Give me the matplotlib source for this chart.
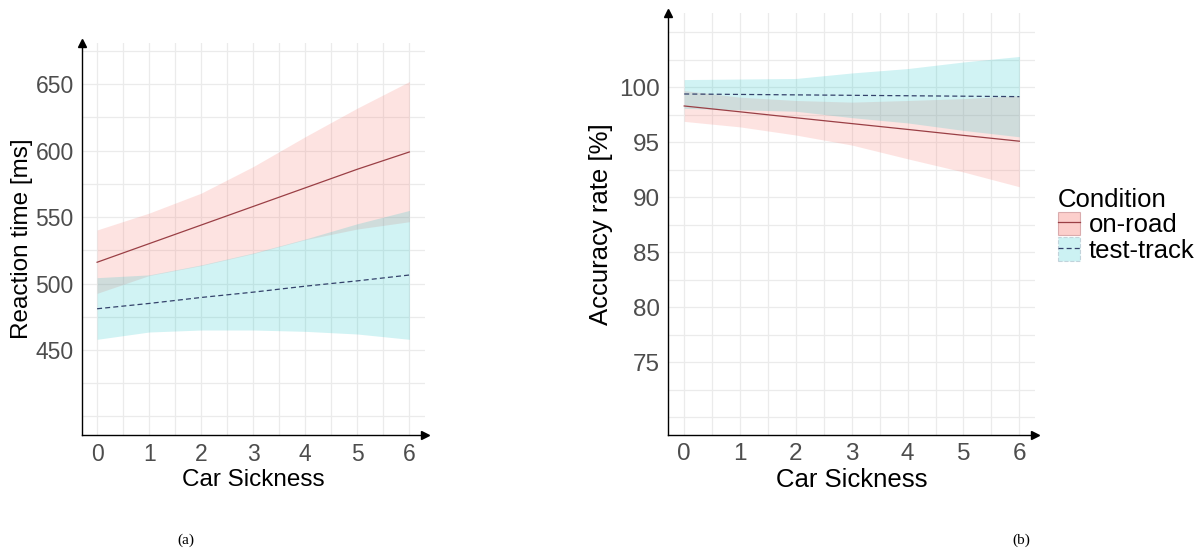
import matplotlib.pyplot as plt
import numpy as np
from matplotlib.patches import Patch
from matplotlib.lines import Line2D

plt.rcParams['font.family'] = ['Liberation Sans', 'DejaVu Sans']

# car sickness score
x = [0, 1, 2, 3, 4, 5, 6]

# (a) reaction time [ms]
rt_road = [516, 530, 544, 558, 572, 586, 599]
rt_road_hi = [540.3, 553, 568, 588, 610.5, 632, 652]
rt_road_lo = [492.6, 506, 513.5, 522.5, 533, 541, 546.5]
rt_track = [481, 485, 489.5, 493.5, 498, 502, 506.4]
rt_track_hi = [504.4, 506.5, 514, 523, 533.5, 545, 555]
rt_track_lo = [458, 463.5, 465, 465, 464, 462, 458]

# (b) accuracy rate [%]
acc_road = [98.3, 97.77, 97.23, 96.7, 96.17, 95.63, 95.1]
acc_road_hi = [99.7, 99.1, 98.8, 98.65, 98.8, 98.97, 99.24]
acc_road_lo = [96.9, 96.4, 95.66, 94.75, 93.5, 92.3, 90.96]
acc_track = [99.39, 99.35, 99.31, 99.27, 99.23, 99.19, 99.15]
acc_track_hi = [100.7, 100.75, 100.8, 101.3, 101.7, 102.3, 102.8]
acc_track_lo = [98.08, 97.95, 97.82, 97.24, 96.76, 96.08, 95.5]

pink = '#F8766D'
cyan = '#00BFC4'
red_line = '#9a3f45'
blue_line = '#34426b'

W, H = 1203, 556
fig = plt.figure(figsize=(W / 100, H / 100), dpi=100)


def panel(rect_px, xlim, ylim, yticks, grid_y, tick_fs, lab_fs):
    l, t, r, b = rect_px
    ax = fig.add_axes([l / W, (H - b) / H, (r - l) / W, (b - t) / H])
    ax.set_xlim(xlim)
    ax.set_ylim(ylim)
    for gx in np.arange(0, 6.01, 0.5):
        ax.axvline(gx, color='#ebebeb', lw=0.9, zorder=0)
    for gy in grid_y:
        ax.axhline(gy, color='#ebebeb', lw=0.9, zorder=0)
    ax.set_xticks(range(7))
    ax.set_yticks(yticks)
    ax.tick_params(length=0, labelsize=tick_fs, colors='#4d4d4d')
    ax.tick_params(axis='x', pad=6)
    ax.tick_params(axis='y', pad=6)
    for s in ['top', 'right']:
        ax.spines[s].set_visible(False)
    for s in ['left', 'bottom']:
        ax.spines[s].set_color('black')
        ax.spines[s].set_linewidth(1.0)
    ax.plot([0], [1], marker='^', color='black', ms=6, transform=ax.transAxes, clip_on=False)
    ax.plot([1], [0], marker='>', color='black', ms=6, transform=ax.transAxes, clip_on=False)
    ax.set_xlabel('Car Sickness', fontsize=lab_fs, labelpad=2)
    return ax


# (a)
ax1 = panel((82, 43, 425, 435), (-0.29, 6.3), (386, 681),
            [450, 500, 550, 600, 650], np.arange(400, 676, 25), 16.5, 17.5)
ax1.fill_between(x, rt_road_lo, rt_road_hi, color=pink, alpha=0.2, lw=0)
ax1.fill_between(x, rt_track_lo, rt_track_hi, color=cyan, alpha=0.18, lw=0)
ax1.plot(x, rt_road, color=red_line, lw=0.9)
ax1.plot(x, rt_track, color=blue_line, lw=0.9, ls=(0, (4, 2.5)))
ax1.set_ylabel('Reaction time [ms]', fontsize=17.5, labelpad=2)

# (b)
ax2 = panel((668, 13, 1035, 435), (-0.29, 6.28), (68.4, 106.75),
            [75, 80, 85, 90, 95, 100], np.arange(70, 105.1, 2.5), 17.5, 18.5)
ax2.fill_between(x, acc_road_lo, acc_road_hi, color=pink, alpha=0.2, lw=0)
ax2.fill_between(x, acc_track_lo, acc_track_hi, color=cyan, alpha=0.18, lw=0)
ax2.plot(x, acc_road, color=red_line, lw=0.9)
ax2.plot(x, acc_track, color=blue_line, lw=0.9, ls=(0, (4, 2.5)))
ax2.set_ylabel('Accuracy rate [%]', fontsize=18.5, labelpad=4)

# legend
h_road = (Patch(facecolor=pink, alpha=0.35, edgecolor=red_line, lw=0.8),
          Line2D([], [], color=red_line, lw=0.9))
h_track = (Patch(facecolor=cyan, alpha=0.2, edgecolor=blue_line, lw=0.8, ls='--'),
           Line2D([], [], color=blue_line, lw=0.9, ls=(0, (4, 2.5))))
leg = fig.legend([h_road, h_track], ['on-road', 'test-track'], title='Condition',
                 loc='upper left', bbox_to_anchor=(1046.5 / W, 1 - 176 / H),
                 frameon=False, fontsize=18.5, title_fontsize=18.5,
                 handlelength=0.85, handleheight=1.05, handletextpad=0.35,
                 labelspacing=0.0, borderpad=0.45, borderaxespad=0.0)
leg._legend_box.align = 'left'

fig.text(186 / W, 1 - 540 / H, '(a)', fontsize=11, family='Liberation Serif', ha='center', va='center')
fig.text(1021 / W, 1 - 540 / H, '(b)', fontsize=11, family='Liberation Serif', ha='center', va='center')

fig.savefig('out.png', dpi=100, facecolor='white')
